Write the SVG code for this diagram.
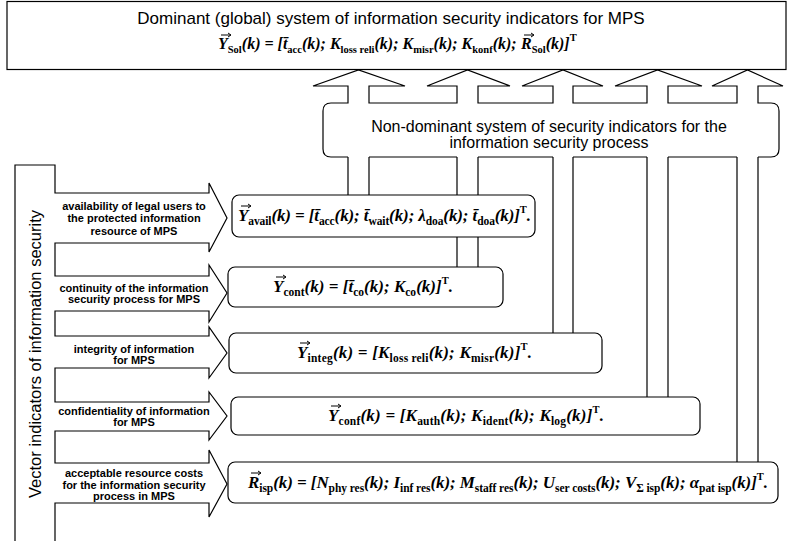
<svg xmlns="http://www.w3.org/2000/svg" width="791" height="541" viewBox="0 0 791 541">
<style>
.ln{fill:none;stroke:#000;stroke-width:1.2;stroke-linejoin:miter}
.box{fill:#fff;stroke:#000;stroke-width:1.2}
.vec{fill:none;stroke:#000;stroke-width:1}
.t{font-family:"Liberation Sans",Arial,sans-serif;fill:#000}
.hd{font-size:17px;text-anchor:middle}
.nd{font-size:16px;text-anchor:middle}
.lbl{font-size:11px;font-weight:bold;text-anchor:middle}
.vt{font-size:16.5px;text-anchor:middle}
.f{font-family:"Liberation Serif","Times New Roman",serif;font-weight:bold;font-style:italic;font-size:17px;fill:#000}
.ft{font-size:16px}
.s{font-style:normal;font-size:11.5px}
.ft .s{font-size:10.5px}
.sup{font-style:normal;font-size:10.5px}
</style>
<defs>
<path id="va" d="M3,0 H12.5 M10,-2 L13,0 L10,2"/>
</defs>
<rect width="791" height="541" fill="#fff"/>

<g id="dominant">
<rect class="box" x="7" y="1.5" width="779" height="68"/>
<text class="t hd" x="391" y="24">Dominant (global) system of information security indicators for MPS</text>
<text class="f ft" x="218" y="49">Y<tspan class="s" dy="4">Sol</tspan><tspan dy="-4">(k) = [t&#x0304;</tspan><tspan class="s" dy="4">acc</tspan><tspan dy="-4">(k); K</tspan><tspan class="s" dy="4">loss reli</tspan><tspan dy="-4">(k); K</tspan><tspan class="s" dy="4">misr</tspan><tspan dy="-4">(k); K</tspan><tspan class="s" dy="4">konf</tspan><tspan dy="-4">(k);</tspan></text>
<text class="f ft" x="521" y="49">R<tspan class="s" dy="4">Sol</tspan><tspan dy="-4">(k)]</tspan><tspan class="sup" dy="-8">T</tspan></text>
<use href="#va" class="vec" x="218" y="35"/>
<use href="#va" class="vec" x="521" y="35"/>
</g>

<g id="non-dominant">
<path class="ln" d="M758,157 L771,157 Q779,157 779,149 L779,111 Q779,103 771,103 L758,103 L758,86 L783,86 L747.5,70 L712,86 L737,86 L737,103 L668,103 L668,86 L702,86 L657.5,70 L615,86 L647,86 L647,103 L573,103 L573,86 L603,86 L563,70 L522,86 L553,86 L553,103 L478,103 L478,86 L510,86 L467.5,70 L427,86 L457,86 L457,103 L369,103 L369,86 L405,86 L358.5,70 L313,86 L348,86 L348,103 L331,103 Q323,103 323,111 L323,149 Q323,157 331,157 L348,157 M369,157 L457,157 M478,157 L553,157 M573,157 L647,157 M668,157 L737,157"/>
<text class="t nd" x="549" y="131.5">Non-dominant system of security indicators for the</text>
<text class="t nd" x="549" y="147.5">information security process</text>
</g>

<g id="connectors">
<path class="ln" d="M348,157 V195 M369,157 V195 M457,157 V195 M478,157 V195 M457,237 V267 M478,237 V267 M553,157 V333 M573,157 V333 M647,157 V397 M668,157 V397 M737,157 V462 M758,157 V462"/>
</g>

<g id="vector-indicators">
<path class="ln" d="M15,541 L15,165 L55,165 L55,193 L209,193 L209,183 L227,218 L209,252 L209,243 L55,243 L55,276 L209,276 L209,265 L227,293 L209,322 L209,311 L55,311 L55,336 L209,336 L209,327 L227,353 L209,378 L209,368 L55,368 L55,402 L209,402 L209,392 L227,416 L209,440 L209,431 L55,431 L55,463 L209,463 L209,450 L227,484 L209,517 L209,503 L55,503 L55,541"/>
<text class="t vt" transform="translate(41,354) rotate(-90)">Vector indicators of information security</text>
<text class="t lbl" x="134" y="210">availability of legal users to</text>
<text class="t lbl" x="134" y="222">the protected information</text>
<text class="t lbl" x="134" y="235">resource of MPS</text>
<text class="t lbl" x="134" y="292">continuity of the information</text>
<text class="t lbl" x="134" y="303">security process for MPS</text>
<text class="t lbl" x="134" y="353">integrity of information</text>
<text class="t lbl" x="134" y="364">for MPS</text>
<text class="t lbl" x="134" y="415">confidentiality of information</text>
<text class="t lbl" x="134" y="426">for MPS</text>
<text class="t lbl" x="134" y="477">acceptable resource costs</text>
<text class="t lbl" x="134" y="489">for the information security</text>
<text class="t lbl" x="134" y="500">process in MPS</text>
</g>

<g id="y-avail">
<rect class="box" x="232" y="195" width="303" height="42" rx="7"/>
<text class="f" x="238" y="221" textLength="293" lengthAdjust="spacing">Y<tspan class="s" dy="4">avail</tspan><tspan dy="-4">(k) = [t&#x0304;</tspan><tspan class="s" dy="4">acc</tspan><tspan dy="-4">(k); t&#x0304;</tspan><tspan class="s" dy="4">wait</tspan><tspan dy="-4">(k); λ</tspan><tspan class="s" dy="4">doa</tspan><tspan dy="-4">(k); t&#x0304;</tspan><tspan class="s" dy="4">doa</tspan><tspan dy="-4">(k)]</tspan><tspan class="sup" dy="-8">T</tspan><tspan dy="8">.</tspan></text>
<use href="#va" class="vec" x="238" y="206"/>
</g>

<g id="y-cont">
<rect class="box" x="228" y="267" width="275" height="40" rx="7"/>
<text class="f" x="273" y="292" textLength="180" lengthAdjust="spacing">Y<tspan class="s" dy="4">cont</tspan><tspan dy="-4">(k) = [t&#x0304;</tspan><tspan class="s" dy="4">co</tspan><tspan dy="-4">(k); K</tspan><tspan class="s" dy="4">co</tspan><tspan dy="-4">(k)]</tspan><tspan class="sup" dy="-8">T</tspan><tspan dy="8">.</tspan></text>
<use href="#va" class="vec" x="273" y="277"/>
</g>

<g id="y-integ">
<rect class="box" x="229" y="333" width="373" height="40" rx="7"/>
<text class="f" x="297" y="358" textLength="235" lengthAdjust="spacing">Y<tspan class="s" dy="4">integ</tspan><tspan dy="-4">(k) = [K</tspan><tspan class="s" dy="4">loss reli</tspan><tspan dy="-4">(k); K</tspan><tspan class="s" dy="4">misr</tspan><tspan dy="-4">(k)]</tspan><tspan class="sup" dy="-8">T</tspan><tspan dy="8">.</tspan></text>
<use href="#va" class="vec" x="297" y="343"/>
</g>

<g id="y-conf">
<rect class="box" x="231" y="397" width="469" height="38" rx="7"/>
<text class="f" x="328" y="421" textLength="276" lengthAdjust="spacing">Y<tspan class="s" dy="4">conf</tspan><tspan dy="-4">(k) = [K</tspan><tspan class="s" dy="4">auth</tspan><tspan dy="-4">(k); K</tspan><tspan class="s" dy="4">ident</tspan><tspan dy="-4">(k); K</tspan><tspan class="s" dy="4">log</tspan><tspan dy="-4">(k)]</tspan><tspan class="sup" dy="-8">T</tspan><tspan dy="8">.</tspan></text>
<use href="#va" class="vec" x="328" y="406"/>
</g>

<g id="r-isp">
<rect class="box" x="228" y="462" width="550" height="41" rx="7"/>
<text class="f" x="248" y="488" textLength="520" lengthAdjust="spacing">R<tspan class="s" dy="4">isp</tspan><tspan dy="-4">(k) = [N</tspan><tspan class="s" dy="4">phy res</tspan><tspan dy="-4">(k); I</tspan><tspan class="s" dy="4">inf res</tspan><tspan dy="-4">(k); M</tspan><tspan class="s" dy="4">staff res</tspan><tspan dy="-4">(k); U</tspan><tspan class="s" dy="4">ser costs</tspan><tspan dy="-4">(k); V</tspan><tspan class="s" dy="4">Σ isp</tspan><tspan dy="-4">(k); α</tspan><tspan class="s" dy="4">pat isp</tspan><tspan dy="-4">(k)]</tspan><tspan class="sup" dy="-8">T</tspan><tspan dy="8">.</tspan></text>
<use href="#va" class="vec" x="248" y="473"/>
</g>
</svg>
